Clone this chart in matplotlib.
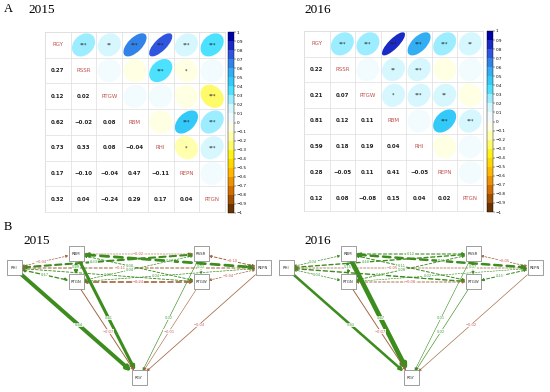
import numpy as np
import matplotlib
matplotlib.use("Agg")
import matplotlib.pyplot as plt
from matplotlib.patches import Ellipse, Rectangle
from matplotlib.colors import LinearSegmentedColormap, Normalize
from matplotlib.cm import ScalarMappable

# variables of the correlation matrices (diagonal order)
variables = ['RGY', 'RSSR', 'RTGW', 'RBM', 'RHI', 'REPN', 'RTGN']

# lower triangle, row by row
corr_2015 = [
    [],
    [0.27],
    [0.12, 0.02],
    [0.62, -0.02, 0.08],
    [0.73, 0.33, 0.08, -0.04],
    [0.17, -0.10, -0.04, 0.47, -0.11],
    [0.32, 0.04, -0.24, 0.29, 0.17, 0.04],
]
corr_2016 = [
    [],
    [0.22],
    [0.21, 0.07],
    [0.81, 0.12, 0.11],
    [0.59, 0.18, 0.19, 0.04],
    [0.28, -0.05, 0.11, 0.41, -0.05],
    [0.12, 0.08, -0.08, 0.15, 0.04, 0.02],
]
# significance stars, upper triangle, row by row
stars_2015 = [
    ['***', '**', '***', '***', '***', '***'],
    ['', '', '***', '*', ''],
    ['', '', '', '***'],
    ['', '***', '***'],
    ['*', '***'],
    [''],
]
stars_2016 = [
    ['***', '***', '***', '***', '***', '**'],
    ['', '**', '***', '', ''],
    ['*', '***', '**', ''],
    ['', '***', '***'],
    ['', ''],
    [''],
]

# path model: predictors -> RGY
predictors = ['RHI', 'RBM', 'RTGN', 'RSSR', 'RTGW', 'REPN']
path_2015 = [0.54, 0.41, -0.07, 0.02, -0.01, -0.04]
path_2016 = [0.33, 0.67, -0.07, 0.01, 0.02, -0.02]

# node layout of the path diagram (panel pixels)
node_pos = {'RHI': (14, 268), 'RBM': (76, 254), 'RTGN': (76, 282),
            'RSSR': (201, 254), 'RTGW': (201, 282), 'REPN': (263, 268),
            'RGY': (139, 378)}

W, H = 550, 392
serif = 'Liberation Serif'
name_col = '#C0504D'
pos_col = '#3C8C1E'
neg_col = '#A0623C'

cmap = LinearSegmentedColormap.from_list('corr', [
    (0.0, '#6B3300'), (0.1, '#D06A00'), (0.2, '#FFB000'), (0.3, '#FFF000'),
    (0.4, '#FFFF99'), (0.5, '#FFFFFF'), (0.6, '#CCF5FF'), (0.7, '#33DDFF'),
    (0.8, '#33A8F0'), (0.9, '#3050DD'), (1.0, '#0000AA')]).resampled(20)
norm = Normalize(-1, 1)


def px_axes(fig, x0, y0, x1, y1):
    return fig.add_axes([x0 / W, 1 - y1 / H, (x1 - x0) / W, (y1 - y0) / H])


def full_matrix(lower):
    n = len(variables)
    m = np.eye(n)
    for i, row in enumerate(lower):
        for j, v in enumerate(row):
            m[i, j] = m[j, i] = v
    return m


def fmt(v):
    return f"{v:.2f}".replace('-', '\u2212')


def draw_corr(ax, cax, lower, stars):
    m = full_matrix(lower)
    n = len(variables)
    ax.set_xlim(0, n)
    ax.set_ylim(0, n)
    ax.set_xticks([])
    ax.set_yticks([])
    for k in range(n + 1):
        ax.axhline(k, color='#DDDDDD', lw=0.5)
        ax.axvline(k, color='#DDDDDD', lw=0.5)
    for s in ax.spines.values():
        s.set_color('#DDDDDD')
        s.set_linewidth(0.5)
    for i in range(n):
        for j in range(n):
            x, y = j + 0.5, n - i - 0.5
            v = m[i, j]
            if i == j:
                ax.text(x, y, variables[i], color=name_col, fontsize=4,
                        ha='center', va='center')
            elif i > j:
                ax.text(x, y, fmt(v), color='#222222', fontsize=4,
                        fontweight='bold', ha='center', va='center')
            else:
                a = abs(v)
                e = Ellipse((x, y), width=0.9 * np.sqrt(1 + a),
                            height=0.9 * np.sqrt(1 - a),
                            angle=45 if v >= 0 else -45,
                            fc=cmap(norm(v)), ec='none')
                ax.add_patch(e)
                st = stars[i][j - i - 1]
                if st:
                    ax.text(x, y, st, fontsize=3.5, ha='center', va='center',
                            color='#222222')
    ticks = np.round(np.linspace(-1, 1, 21), 1)
    cb = plt.colorbar(ScalarMappable(norm=norm, cmap=cmap), cax=cax,
                      ticks=ticks)
    cb.ax.set_yticklabels([f"{t:g}".replace('-', '\u2212') for t in ticks])
    cb.ax.tick_params(labelsize=3, length=1.2, width=0.3, pad=1)
    cb.outline.set_linewidth(0.3)


def box_edge(p, q, half=7.5):
    dx, dy = q[0] - p[0], q[1] - p[1]
    tx = half / abs(dx) if dx else np.inf
    ty = half / abs(dy) if dy else np.inf
    t = min(tx, ty)
    return (p[0] + dx * t, p[1] + dy * t)


def edge(ax, a, b, v, dashed, frac=0.5):
    pa, pb = node_pos[a], node_pos[b]
    s = box_edge(pa, pb)
    e = box_edge(pb, pa)
    col = pos_col if v >= 0 else neg_col
    if dashed:
        lw = 0.35 + 3.5 * abs(v)
    else:
        lw = 0.35 + 4.5 * abs(v)
    props = dict(arrowstyle='<|-|>' if dashed else '-|>', color=col, lw=lw,
                 mutation_scale=3.5 + 0.8 * lw, shrinkA=0, shrinkB=0)
    if dashed:
        props['linestyle'] = (0, (3, 2))
    ax.annotate('', xy=e, xytext=s, arrowprops=props)
    mx = s[0] + (e[0] - s[0]) * frac
    my = s[1] + (e[1] - s[1]) * frac
    ax.text(mx, my, fmt(v), fontsize=2.6,
            color='#4CA64C' if v >= 0 else '#D06060', ha='center',
            va='center', bbox=dict(fc='white', ec='none', pad=0.2, alpha=0.85))


def draw_path(ax, lower, paths):
    m = full_matrix(lower)
    ax.set_xlim(0, 275)
    ax.set_ylim(392, 235)
    ax.axis('off')
    idx = {v: k for k, v in enumerate(variables)}
    # covariances between predictors
    for a_i in range(len(predictors)):
        for b_i in range(a_i + 1, len(predictors)):
            a, b = predictors[a_i], predictors[b_i]
            v = m[idx[a], idx[b]]
            frac = 0.5 if (a_i + b_i) % 2 == 0 else 0.42
            edge(ax, a, b, v, True, frac)
    # direct paths to RGY
    for p, v in zip(predictors, paths):
        edge(ax, p, 'RGY', v, False, 0.52)
    for name, (x, y) in node_pos.items():
        ax.add_patch(Rectangle((x - 7.5, y - 7.5), 15, 15, fc='white',
                               ec='#777777', lw=0.5, zorder=5))
        ax.text(x, y, name, fontsize=2.8, ha='center', va='center',
                color='#333333', zorder=6)


fig = plt.figure(figsize=(5.5, 3.92), dpi=100)

ax1 = px_axes(fig, 45, 32, 225, 212)
cax1 = px_axes(fig, 228, 32, 234, 213)
draw_corr(ax1, cax1, corr_2015, stars_2015)

ax2 = px_axes(fig, 304, 31, 483, 211)
cax2 = px_axes(fig, 487, 31, 493, 212)
draw_corr(ax2, cax2, corr_2016, stars_2016)

bx1 = px_axes(fig, 0, 235, 275, 392)
draw_path(bx1, corr_2015, path_2015)
bx2 = px_axes(fig, 272, 235, 547, 392)
draw_path(bx2, corr_2016, path_2016)

fig.text(4 / W, 1 - 3 / H, 'A', fontsize=9, family=serif, va='top')
fig.text(28 / W, 1 - 4 / H, '2015', fontsize=9.5, family=serif, va='top')
fig.text(304 / W, 1 - 4 / H, '2016', fontsize=9.5, family=serif, va='top')
fig.text(4 / W, 1 - 221 / H, 'B', fontsize=9, family=serif, va='top')
fig.text(23 / W, 1 - 235 / H, '2015', fontsize=9.5, family=serif, va='top')
fig.text(304 / W, 1 - 235 / H, '2016', fontsize=9.5, family=serif, va='top')

plt.savefig('out.png', dpi=100)
